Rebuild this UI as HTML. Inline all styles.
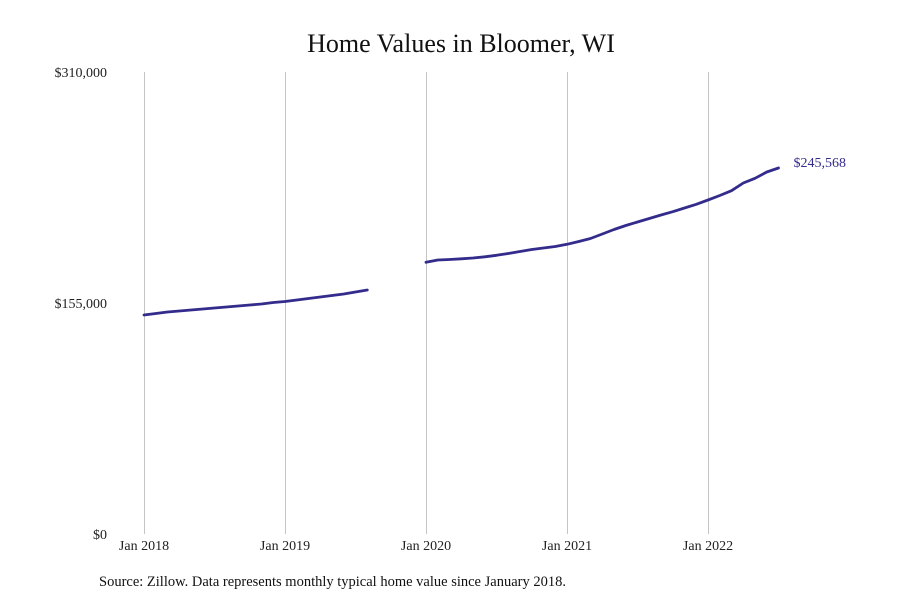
<!DOCTYPE html>
<html><head><meta charset="utf-8"><style>
html,body{margin:0;padding:0;background:#fff;}
svg text{font-family:"Liberation Serif",serif;}
</style></head><body>
<svg id="chart" width="900" height="600" viewBox="0 0 900 600">
<text x="461" y="52" text-anchor="middle" font-size="26" fill="#111">Home Values in Bloomer, WI</text>
<g id="grid"></g><g id="yaxis"></g><g id="xaxis"></g><g id="series"></g>
<text x="99" y="586" font-size="14.5" fill="#111">Source: Zillow. Data represents monthly typical home value since January 2018.</text>
</svg>
<script>
const yTicks=[0,155000,310000];
const yTickLabels=["$0","$155,000","$310,000"];
const xTickLabels=["Jan 2018","Jan 2019","Jan 2020","Jan 2021","Jan 2022"];
const xTickMonths=[0,12,24,36,48];
const values2018=[146949,147956,148962,149633,150304,150975,151646,152317,152988,153659,154330,155337];
const values2019=[156008,157014,158021,159027,160034,161040,162382,163724,null,null,null,null];
const values2020=[182311,183854,184190,184659,185196,186001,187008,188216,189558,190900,191906,192913];
const values2021=[194389,196268,198281,201300,204320,207004,209352,211701,214049,216263,218746,221229];
const values2022=[224114,227134,230355,235521,238675,242902,245568];
const endLabel="$245,568";
const values=[].concat(values2018,values2019,values2020,values2021,values2022);
const NS="http://www.w3.org/2000/svg";
const x=m=>144+m*(141/12);
const y=v=>534-v/310000*462;
function mk(tag,attrs,parent){const e=document.createElementNS(NS,tag);for(const k in attrs)e.setAttribute(k,attrs[k]);parent.appendChild(e);return e;}
const grid=document.getElementById('grid'),ya=document.getElementById('yaxis'),xa=document.getElementById('xaxis'),ser=document.getElementById('series');
xTickMonths.forEach((m,i)=>{
  const l=mk('line',{x1:Math.round(x(m))+0.5,x2:Math.round(x(m))+0.5,y1:72,y2:534,stroke:'#c4c4c4','stroke-width':1},grid);
  
  
  const t=mk('text',{x:x(m),y:550,'text-anchor':'middle','font-size':14,fill:'#222'},xa);
  t.textContent=xTickLabels[i];
  
  
});
yTicks.forEach((v,i)=>{
  const t=mk('text',{x:107,y:y(v)+5,'text-anchor':'end','font-size':14,fill:'#222'},ya);
  t.textContent=yTickLabels[i];
  
  
});
let d='',pen=false;
values.forEach((v,i)=>{
  if(v===null){pen=false;return;}
  d+=(pen?'L':'M')+x(i).toFixed(1)+' '+y(v).toFixed(1)+' ';pen=true;
});
const p=mk('path',{d:d,fill:'none',stroke:'#332c8c','stroke-width':2.8,'stroke-linejoin':'round','stroke-linecap':'round'},ser);


const li=values.length-1;
const el=mk('text',{x:x(li)+15,y:y(values[li])-1,'font-size':14,fill:'#332c8c'},ser);
el.textContent=endLabel;


</script>
</body></html>
